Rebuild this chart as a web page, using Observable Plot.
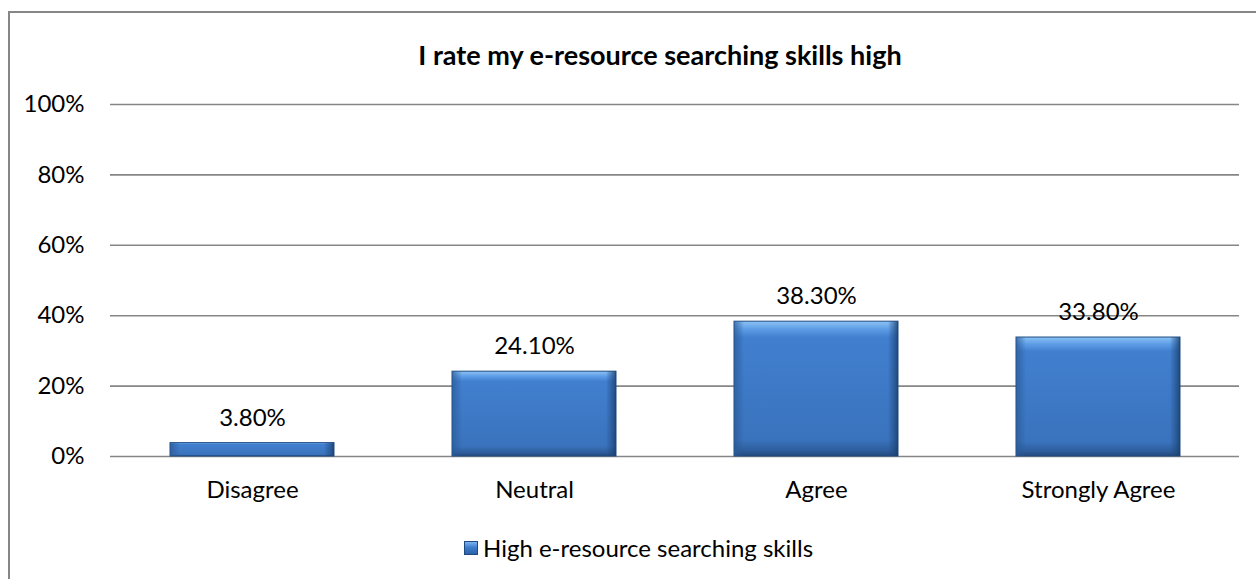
<!DOCTYPE html>
<html><head><meta charset="utf-8">
<script src="https://cdn.jsdelivr.net/npm/d3@7"></script>
<script src="https://cdn.jsdelivr.net/npm/@observablehq/plot@0.6"></script>
<style>
body{margin:0;background:#fff;}
#wrap{position:relative;width:1256px;height:579px;overflow:hidden;font-family:Lato,'Open Sans',sans-serif;}
#frame{position:absolute;left:8px;top:11px;width:1300px;height:700px;border-left:2px solid #868686;border-top:2px solid #868686;}
#chart{position:absolute;left:0;top:0;}
#title{position:absolute;left:0;width:1320px;top:38px;line-height:34px;text-align:center;font-weight:bold;font-size:27px;color:#000;}
#legend{position:absolute;left:464px;top:533px;line-height:30px;font-size:24px;color:#000;display:flex;align-items:center;white-space:nowrap;}
#legend .sw{width:12px;height:12px;margin-right:5px;border:1px solid #1f4a80;background:linear-gradient(#7ab4ee,#3d7dcc 45%,#2d63a8);}
</style></head><body>
<div id="wrap"><div id="frame"></div><div id="chart"></div><div id="title"></div><div id="legend"><span class="sw"></span><span id="legtext"></span></div></div>
<script>
const categories = ["Disagree", "Neutral", "Agree", "Strongly Agree"];
const values = [3.8, 24.1, 38.3, 33.8];
const yTicks = [0, 20, 40, 60, 80, 100];
const titleText = "I rate my e-resource searching skills high";
const seriesName = "High e-resource searching skills";

const data = categories.map((c, i) => ({category: c, value: values[i]}));
const font = "Lato, 'Open Sans', sans-serif";

const svg = Plot.plot({
  width: 1256, height: 579,
  marginTop: 104, marginBottom: 123, marginLeft: 110, marginRight: 17,
  style: {fontFamily: font, fontSize: "24px", background: "transparent", color: "#000"},
  x: {domain: categories, paddingInner: 0.42, paddingOuter: 0.21, label: null},
  y: {domain: [0, 100], label: null},
  marks: [
    Plot.gridY(yTicks, {stroke: "#868686", strokeOpacity: 1, strokeWidth: 1.6}),
    Plot.barY(data, {x: "category", y: "value", fill: "url(#gv)", stroke: "#1f4a80", strokeWidth: 1}),
    Plot.barY(data, {x: "category", y: "value", fill: "url(#gh)"}),
    Plot.text(data, {x: "category", y: "value", text: d => d.value.toFixed(2) + "%", dy: -25, fontSize: 24, fill: "#000"}),
    Plot.axisX({anchor: "bottom", tickSize: 0, tickPadding: 24, fontSize: 24, label: null}),
    Plot.axisY(yTicks, {anchor: "left", tickSize: 0, tickPadding: 26, fontSize: 24, tickFormat: d => d + "%", label: null})
  ]
});

const defs = d3.select(svg).insert("defs", ":first-child");
const gv = defs.append("linearGradient").attr("id", "gv").attr("x1", 0).attr("y1", 0).attr("x2", 0).attr("y2", 1);
[["0%", "#8cc3f5"], ["6%", "#5d9de6"], ["12%", "#417fcf"], ["88%", "#3a73bd"], ["96%", "#2d5d9c"], ["100%", "#24497c"]]
  .forEach(([o, c]) => gv.append("stop").attr("offset", o).attr("stop-color", c));
const gh = defs.append("linearGradient").attr("id", "gh").attr("x1", 0).attr("y1", 0).attr("x2", 1).attr("y2", 0);
[["0%", "#2a5a96", 0.75], ["5%", "#2a5a96", 0.15], ["6%", "#2a5a96", 0], ["94%", "#1f4a80", 0], ["95%", "#1f4a80", 0.2], ["100%", "#1a3f6e", 0.85]]
  .forEach(([o, c, a]) => gh.append("stop").attr("offset", o).attr("stop-color", c).attr("stop-opacity", a));

document.getElementById("chart").appendChild(svg);
document.getElementById("title").textContent = titleText;
document.getElementById("legtext").textContent = seriesName;
</script>
</body></html>
